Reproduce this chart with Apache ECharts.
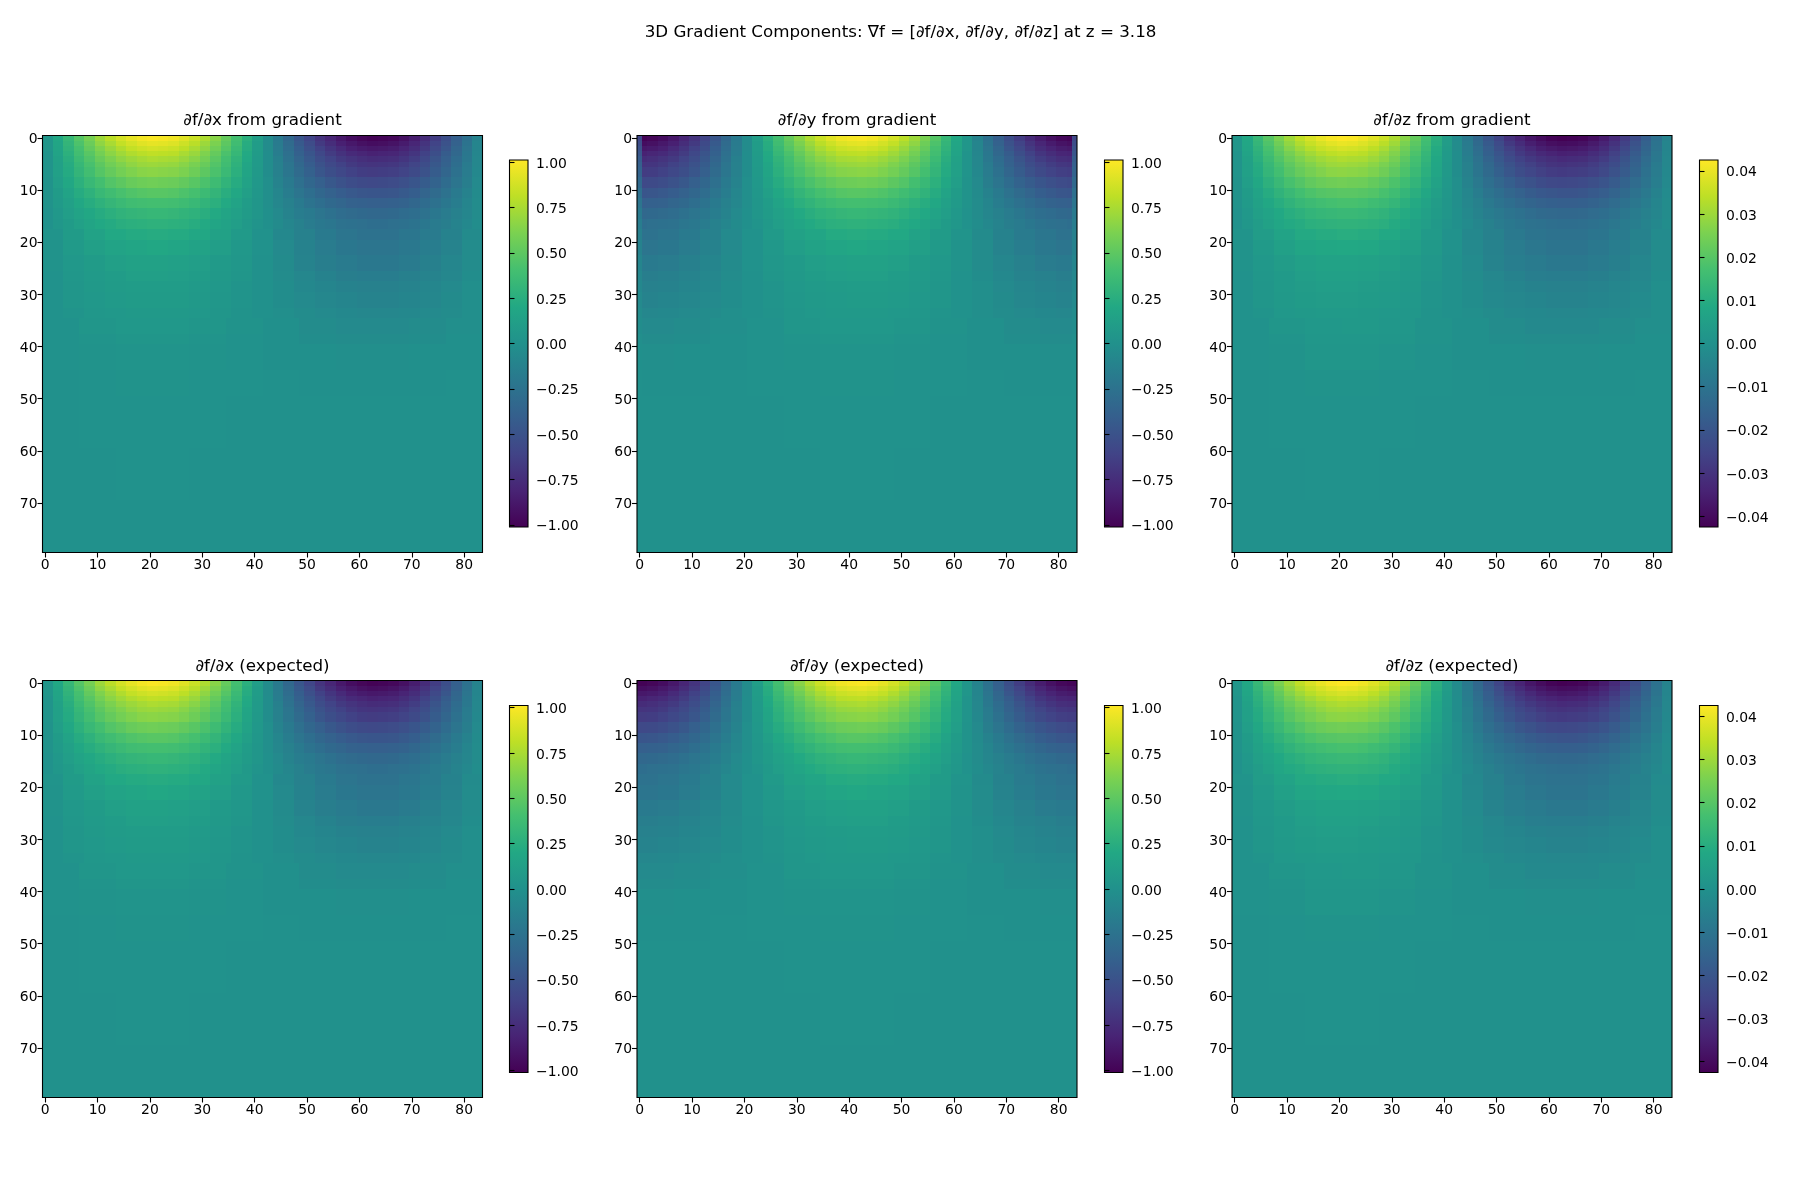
<!DOCTYPE html>
<html lang="en">
<head>
<meta charset="UTF-8">
<title>3D Gradient Components</title>
<style>
  html, body { margin: 0; background: #fff; }
  #chart { width: 1800px; height: 1200px; }
</style>
</head>
<body>
<div id="chart"></div>
<script src="https://cdn.jsdelivr.net/npm/echarts@6/dist/echarts.min.js"></script>
<script>
const suptitle = '3D Gradient Components: ∇f = [∂f/∂x, ∂f/∂y, ∂f/∂z] at z = 3.18';
const panelTitles = ['∂f/∂x from gradient', '∂f/∂y from gradient', '∂f/∂z from gradient',
                     '∂f/∂x (expected)', '∂f/∂y (expected)', '∂f/∂z (expected)'];
const unitTicks = [-1, -0.75, -0.5, -0.25, 0, 0.25, 0.5, 0.75, 1];
const dzTicks = [-0.04, -0.03, -0.02, -0.01, 0, 0.01, 0.02, 0.03, 0.04];
const unitLimit = 1.012;
const dzLimit = 0.0425;
const viridis = ['#440154', '#482475', '#414487', '#355f8d', '#2a788e', '#21918c', '#22a884', '#44bf70', '#7ad151', '#bddf26', '#fde725'];

// grid is 84 x 80 cells in blocks
// first row index of each block row; a row with n values splits the 84 columns in n equal blocks
const rowStarts = [0, 1, 2, 3, 4, 5, 6, 8, 10, 12, 14, 16, 18, 20, 23, 26, 28, 30, 33, 35, 38, 40, 45, 50, 60, 70];

// df/dx, hundredths
const dxRows = [
  [4,19,33,47,59,71,80,88,94,98,100,99,97,92,85,76,65,53,40,26,11,-4,-19,-33,-47,-59,-71,-80,-88,-94,-98,-100,-99,-97,-92,-85,-76,-65,-53,-40,-26,-11],
  [4,18,31,44,55,67,75,83,88,92,94,93,91,86,80,71,61,50,38,24,10,-4,-18,-31,-44,-55,-67,-75,-83,-88,-92,-94,-93,-91,-86,-80,-71,-61,-50,-38,-24,-10],
  [4,17,29,41,52,62,70,77,83,86,88,87,85,81,75,67,57,47,35,23,10,-4,-17,-29,-41,-52,-62,-70,-77,-83,-86,-88,-87,-85,-81,-75,-67,-57,-47,-35,-23,-10],
  [3,16,27,39,48,58,66,72,77,80,82,81,80,75,70,62,53,43,33,21,9,-3,-16,-27,-39,-48,-58,-66,-72,-77,-80,-82,-81,-80,-75,-70,-62,-53,-43,-33,-21,-9],
  [3,14,25,36,45,54,61,67,71,74,76,75,74,70,65,58,49,40,30,20,8,-3,-14,-25,-36,-45,-54,-61,-67,-71,-74,-76,-75,-74,-70,-65,-58,-49,-40,-30,-20,-8],
  [3,13,23,33,42,50,57,62,67,70,71,70,69,65,60,54,46,38,28,18,8,-3,-13,-23,-33,-42,-50,-57,-62,-67,-70,-71,-70,-69,-65,-60,-54,-46,-38,-28,-18,-8],
  [3,13,22,31,39,47,53,58,62,65,66,65,64,61,56,50,43,35,26,17,7,-3,-13,-22,-31,-39,-47,-53,-58,-62,-65,-66,-65,-64,-61,-56,-50,-43,-35,-26,-17,-7],
  [2,11,19,27,34,40,46,50,54,56,57,56,55,52,48,43,37,30,23,15,6,-2,-11,-19,-27,-34,-40,-46,-50,-54,-56,-57,-56,-55,-52,-48,-43,-37,-30,-23,-15,-6],
  [2,9,16,23,28,34,38,42,45,47,48,48,47,44,41,36,31,25,19,12,5,-2,-9,-16,-23,-28,-34,-38,-42,-45,-47,-48,-48,-47,-44,-41,-36,-31,-25,-19,-12,-5],
  [2,8,13,19,24,28,32,35,38,39,40,40,39,37,34,30,26,21,16,10,4,-2,-8,-13,-19,-24,-28,-32,-35,-38,-39,-40,-40,-39,-37,-34,-30,-26,-21,-16,-10,-4],
  [1,6,11,16,19,23,26,29,31,32,33,33,32,30,28,25,21,17,13,9,4,-1,-6,-11,-16,-19,-23,-26,-29,-31,-32,-33,-33,-32,-30,-28,-25,-21,-17,-13,-9,-4],
  [1,5,9,13,17,20,22,25,26,27,28,28,27,26,24,21,18,15,11,7,3,-1,-5,-9,-13,-17,-20,-22,-25,-26,-27,-28,-28,-27,-26,-24,-21,-18,-15,-11,-7,-3],
  [3,9,15,20,22,23,22,19,14,8,1,-7,-13,-19,-23,-25,-25,-22,-18,-12,-5],
  [2,8,12,16,18,19,18,15,11,6,1,-6,-12,-17,-21,-23,-23,-20,-16,-11,-4],
  [2,6,9,12,14,14,13,11,8,5,0,-5,-11,-15,-18,-20,-20,-18,-14,-9,-4],
  [1,5,8,10,12,12,11,10,7,4,0,-4,-8,-12,-15,-16,-16,-14,-11,-8,-3],
  [1,4,7,9,10,10,10,8,6,3,0,-3,-7,-10,-12,-13,-13,-11,-9,-6,-2],
  [1,4,6,8,9,9,9,7,5,3,0,-3,-6,-8,-10,-11,-11,-10,-8,-5,-2],
  [1,3,5,6,7,7,7,6,4,2,0,-2,-4,-6,-7,-8,-8,-7,-6,-4,-2],
  [1,4,6,6,4,2,-1,-4,-6,-6,-4,-2],
  [1,3,4,4,3,1,-1,-3,-4,-4,-3,-1],
  [1,2,3,3,2,1,-1,-1,-2,-2,-1,-1],
  [0,1,2,2,1,1,0,-1,-1,-1,-1,0],
  [0,1,1,1,1,0,0,0,0,0,0,0],
  [0,0,1,1,0,0,0,0,0,0,0,0],
  [0,0,0,0,0,0,0,0,0,0,0,0]
];

// df/dy, hundredths
const dyRows = [
  [-100,-98,-94,-88,-80,-71,-60,-47,-33,-19,-4,11,26,40,53,65,76,85,92,97,99,100,98,94,88,80,71,60,47,33,19,4,-11,-26,-40,-53,-65,-76,-85,-92,-97,-99],
  [-94,-92,-88,-83,-75,-67,-56,-44,-31,-18,-4,10,24,38,50,61,71,80,86,91,93,94,92,88,83,75,67,56,44,31,18,4,-10,-24,-38,-50,-61,-71,-80,-86,-91,-93],
  [-88,-86,-83,-77,-70,-62,-53,-41,-29,-17,-4,10,23,35,47,57,67,75,81,85,87,88,86,83,77,70,62,53,41,29,17,4,-10,-23,-35,-47,-57,-67,-75,-81,-85,-87],
  [-82,-80,-77,-72,-66,-58,-49,-39,-27,-16,-3,9,21,33,43,53,62,70,75,80,81,82,80,77,72,66,58,49,39,27,16,3,-9,-21,-33,-43,-53,-62,-70,-75,-80,-81],
  [-76,-74,-71,-67,-61,-54,-46,-36,-25,-14,-3,8,20,30,40,49,58,65,70,74,75,76,74,71,67,61,54,46,36,25,14,3,-8,-20,-30,-40,-49,-58,-65,-70,-74,-75],
  [-71,-70,-67,-62,-57,-50,-43,-33,-23,-13,-3,8,18,28,38,46,54,60,65,69,70,71,70,67,62,57,50,43,33,23,13,3,-8,-18,-28,-38,-46,-54,-60,-65,-69,-70],
  [-66,-65,-62,-58,-53,-47,-40,-31,-22,-13,-3,7,17,26,35,43,50,56,61,64,65,66,65,62,58,53,47,40,31,22,13,3,-7,-17,-26,-35,-43,-50,-56,-61,-64,-65],
  [-57,-56,-54,-50,-46,-40,-34,-27,-19,-11,-2,6,15,23,30,37,43,48,52,55,56,57,56,54,50,46,40,34,27,19,11,2,-6,-15,-23,-30,-37,-43,-48,-52,-55,-56],
  [-48,-47,-45,-42,-38,-34,-29,-23,-16,-9,-2,5,12,19,25,31,36,41,44,47,48,48,47,45,42,38,34,29,23,16,9,2,-5,-12,-19,-25,-31,-36,-41,-44,-47,-48],
  [-40,-39,-38,-35,-32,-28,-24,-19,-13,-8,-2,4,10,16,21,26,30,34,37,39,40,40,39,38,35,32,28,24,19,13,8,2,-4,-10,-16,-21,-26,-30,-34,-37,-39,-40],
  [-33,-32,-31,-29,-26,-23,-20,-16,-11,-6,-1,4,9,13,17,21,25,28,30,32,33,33,32,31,29,26,23,20,16,11,6,1,-4,-9,-13,-17,-21,-25,-28,-30,-32,-33],
  [-28,-27,-26,-25,-22,-20,-17,-13,-9,-5,-1,3,7,11,15,18,21,24,26,27,28,28,27,26,25,22,20,17,13,9,5,1,-3,-7,-11,-15,-18,-21,-24,-26,-27,-28],
  [-25,-23,-19,-13,-6,1,8,14,18,22,23,22,20,15,9,3,-5,-12,-18,-22,-25],
  [-23,-21,-17,-12,-6,1,6,11,15,18,19,18,16,12,8,2,-4,-11,-16,-20,-23],
  [-19,-17,-14,-10,-5,1,5,8,11,13,14,14,12,9,6,2,-4,-9,-13,-17,-19],
  [-15,-14,-11,-8,-4,0,4,7,10,11,12,12,10,8,5,1,-3,-7,-11,-13,-15],
  [-13,-12,-10,-7,-3,0,3,6,8,9,10,10,9,7,4,1,-2,-6,-9,-11,-13],
  [-11,-10,-8,-6,-3,0,3,5,7,8,9,9,8,6,4,1,-2,-5,-8,-10,-11],
  [-8,-7,-6,-4,-2,0,2,4,6,7,7,7,6,5,3,1,-2,-4,-6,-7,-8],
  [-6,-4,-2,1,4,6,6,4,2,-1,-4,-6],
  [-4,-3,-1,1,3,4,4,3,1,-1,-3,-4],
  [-2,-1,-1,1,2,3,3,2,1,-1,-1,-2],
  [-1,-1,0,1,1,2,2,1,1,0,-1,-1],
  [0,0,0,0,1,1,1,1,0,0,0,0],
  [0,0,0,0,0,1,1,0,0,0,0,0],
  [0,0,0,0,0,0,0,0,0,0,0,0]
];

// the from-gradient df/dy has lighter first and last columns, one value per block row
const dyEdgeColumn = [-58,-54,-50,-47,-43,-40,-37,-32,-27,-23,-19,-16,-14,-12,-10,-8,-7,-6,-4,-3,-2,-1,0,0,0,0];

// df/dz, hundredths of dzLimit (position on its colour scale)
const dzRows = [
  [4,19,33,47,60,71,81,88,94,98,100,99,96,91,84,75,64,52,39,25,10,-5,-19,-33,-47,-59,-71,-80,-88,-94,-98,-100,-99,-97,-92,-85,-76,-65,-53,-40,-26,-11],
  [4,18,31,44,56,67,76,83,88,92,94,93,90,86,79,71,60,49,37,24,10,-4,-18,-31,-44,-55,-67,-75,-83,-88,-92,-94,-93,-91,-86,-80,-71,-61,-50,-38,-24,-10],
  [4,17,29,41,52,63,71,78,83,86,88,87,85,80,74,66,56,46,35,22,9,-4,-17,-29,-41,-52,-62,-70,-77,-83,-86,-88,-87,-85,-81,-75,-67,-57,-47,-35,-23,-10],
  [3,16,27,39,49,58,66,72,77,80,82,81,79,75,69,62,53,43,32,21,8,-3,-16,-27,-39,-48,-58,-66,-72,-77,-80,-82,-81,-80,-75,-70,-62,-53,-43,-33,-21,-9],
  [3,14,25,36,45,54,61,67,71,74,76,75,74,70,65,58,49,40,30,19,8,-3,-14,-25,-36,-45,-54,-61,-67,-71,-74,-76,-75,-74,-70,-65,-58,-49,-40,-30,-20,-8],
  [3,13,23,33,42,50,57,62,67,70,71,70,69,65,60,54,46,38,28,18,7,-3,-13,-23,-33,-42,-50,-57,-62,-67,-70,-71,-70,-69,-65,-60,-54,-46,-38,-28,-18,-8],
  [3,13,22,31,39,47,53,58,62,65,66,65,64,61,56,50,43,35,26,17,7,-3,-13,-22,-31,-39,-47,-53,-58,-62,-65,-66,-65,-64,-61,-56,-50,-43,-35,-26,-17,-7],
  [2,11,19,27,34,41,46,51,54,56,57,56,55,52,48,43,37,30,23,15,6,-2,-11,-19,-27,-34,-40,-46,-50,-54,-56,-57,-56,-55,-52,-48,-43,-37,-30,-23,-15,-6],
  [2,9,16,23,29,34,39,43,46,47,48,48,47,45,41,37,31,25,19,12,5,-2,-9,-16,-23,-28,-34,-38,-42,-45,-47,-48,-48,-47,-44,-41,-36,-31,-25,-19,-12,-5],
  [2,8,14,19,24,29,33,36,38,40,41,41,40,37,35,31,26,21,16,10,4,-2,-8,-13,-19,-24,-28,-32,-35,-38,-39,-40,-40,-39,-37,-34,-30,-26,-21,-16,-10,-4],
  [1,6,12,16,20,24,27,30,32,33,34,34,33,31,29,25,22,18,13,9,4,-1,-6,-11,-16,-19,-23,-26,-29,-31,-32,-33,-33,-32,-30,-28,-25,-21,-17,-13,-9,-4],
  [1,5,10,14,18,21,23,26,27,28,29,29,28,27,25,22,19,15,11,7,3,-1,-5,-9,-13,-17,-20,-22,-25,-26,-27,-28,-28,-27,-26,-24,-21,-18,-15,-11,-7,-3],
  [3,10,16,21,23,24,23,20,15,8,1,-7,-13,-19,-23,-25,-25,-22,-18,-12,-5],
  [2,8,13,17,19,20,19,16,12,7,1,-6,-12,-17,-21,-23,-23,-20,-16,-11,-4],
  [2,6,10,13,15,15,14,12,9,5,0,-5,-11,-15,-18,-20,-20,-18,-14,-9,-4],
  [1,5,8,11,13,13,12,10,8,4,0,-4,-8,-12,-15,-16,-16,-14,-11,-8,-3],
  [1,4,8,10,11,11,10,9,7,3,0,-3,-7,-10,-12,-13,-13,-11,-9,-6,-2],
  [1,4,7,9,10,10,9,8,6,3,0,-3,-6,-8,-10,-11,-11,-10,-8,-5,-2],
  [1,3,6,7,8,8,7,6,5,2,0,-2,-4,-6,-7,-8,-8,-7,-6,-4,-2],
  [1,4,6,7,5,2,-1,-4,-6,-6,-4,-2],
  [1,3,5,5,4,2,-1,-3,-4,-4,-3,-1],
  [1,2,4,4,3,1,-1,-1,-2,-2,-1,-1],
  [0,1,2,2,1,1,0,-1,-1,-1,-1,0],
  [0,1,1,1,1,0,0,0,0,0,0,0],
  [0,0,1,1,0,0,0,0,0,0,0,0],
  [0,0,0,0,0,0,0,0,0,0,0,0]
];

const colCount = 84;
const rowCount = 80;
const xCats = Array.from({ length: colCount }, (_, i) => String(i));
const yCats = Array.from({ length: rowCount }, (_, i) => String(i));

function fmtTick(v) {
  return '{a|' + v.toFixed(2).replace('-', '\u2212') + '}';
}

// expand the block rows onto the 84 x 80 cells
function buildCells(rows, unit, edge) {
  const cells = [];
  for (let y = 0; y < rowCount; y++) {
    let b = rowStarts.length - 1;
    while (rowStarts[b] > y) b--;
    const row = rows[b];
    for (let x = 0; x < colCount; x++) {
      let v = row[Math.floor(x * row.length / colCount)];
      if (edge && (x === 0 || x === colCount - 1)) v = edge[b];
      cells.push([x, y, v * unit]);
    }
  }
  return cells;
}

// toFixed first: neighbours must round a shared edge the same way
function snap(v) {
  return Math.round(+v.toFixed(3));
}

// cell edges snapped to whole pixels, so neighbours share an edge and no seams show
function renderCell(params, api) {
  const p = api.coord([api.value(0), api.value(1)]);
  const s = api.size([1, 1]);
  const x0 = snap(p[0] - s[0] / 2), x1 = snap(p[0] + s[0] / 2);
  const y0 = snap(p[1] - s[1] / 2), y1 = snap(p[1] + s[1] / 2);
  return {
    type: 'rect',
    shape: { x: x0, y: y0, width: x1 - x0, height: y1 - y0 },
    style: { fill: api.visual('color') }
  };
}

const panels = [
  { rows: dxRows, unit: 0.01, limit: unitLimit, ticks: unitTicks, edge: null },
  { rows: dyRows, unit: 0.01, limit: unitLimit, ticks: unitTicks, edge: dyEdgeColumn },
  { rows: dzRows, unit: dzLimit / 100, limit: dzLimit, ticks: dzTicks, edge: null },
  { rows: dxRows, unit: 0.01, limit: unitLimit, ticks: unitTicks, edge: null },
  { rows: dyRows, unit: 0.01, limit: unitLimit, ticks: unitTicks, edge: null },
  { rows: dzRows, unit: dzLimit / 100, limit: dzLimit, ticks: dzTicks, edge: null }
];

const plotLefts = [42.5, 637, 1232];
const barLefts = [509.5, 1104.5, 1699.5];
const plotTops = [135.5, 680.5];
const barTops = [160, 705.5];
const titleTops = [107, 653];

const textColor = '#000';
const fontFamily = '"DejaVu Sans", sans-serif';
const grids = [], xAxes = [], yAxes = [], series = [], visualMaps = [];
const titles = [{
  text: suptitle, left: 895.5, top: 19.5, textAlign: 'center',
  textStyle: { color: textColor, fontFamily, fontSize: 16.7, fontWeight: 'normal' }
}];

panels.forEach((p, i) => {
  const col = i % 3, rowIdx = i < 3 ? 0 : 1;
  const left = plotLefts[col];

  // title boxes carry 5px of padding
  titles.push({
    text: panelTitles[i], left: left + 215, top: titleTops[rowIdx], textAlign: 'center',
    textStyle: { color: textColor, fontFamily, fontSize: 16.7, fontWeight: 'normal' }
  });

  // image panel
  const g = grids.length;
  grids.push({ show: true, left, top: plotTops[rowIdx], width: 440, height: 417,
    borderColor: '#000', borderWidth: 1.1, backgroundColor: 'transparent', containLabel: false });
  const tenth = idx => idx % 10 === 0;
  const tickStyle = { show: true, alignWithLabel: true, interval: tenth, length: 5, lineStyle: { color: '#000', width: 1.1 } };
  const labelBase = { show: true, interval: tenth, color: textColor, fontFamily, fontSize: 13.9 };
  xAxes.push({
    type: 'category', gridIndex: g, data: xCats, position: 'bottom',
    axisLine: { show: false }, axisTick: tickStyle, splitLine: { show: false }, splitArea: { show: false },
    axisLabel: Object.assign({ margin: 6 }, labelBase)
  });
  yAxes.push({
    type: 'category', gridIndex: g, data: yCats, inverse: true, position: 'left',
    axisLine: { show: false }, axisTick: tickStyle, splitLine: { show: false }, splitArea: { show: false },
    axisLabel: Object.assign({
      margin: 5,
      formatter: v => '{a|' + v + '}',
      rich: { a: { color: textColor, fontFamily, fontSize: 13.9, padding: [3, 0, 0, 0] } }
    }, labelBase)
  });
  visualMaps.push({
    show: false, type: 'continuous', seriesIndex: series.length, dimension: 2,
    min: -p.limit, max: p.limit, inRange: { color: viridis }
  });
  series.push({
    type: 'custom', xAxisIndex: g, yAxisIndex: g, z: -1,
    data: buildCells(p.rows, p.unit, p.edge),
    encode: { x: 0, y: 1 }, renderItem: renderCell,
    progressive: 0, animation: false, silent: true
  });

  // colour bar
  const c = grids.length;
  grids.push({ show: true, left: barLefts[col], top: barTops[rowIdx], width: 18.5, height: 367,
    borderColor: '#000', borderWidth: 1.1, backgroundColor: 'transparent', containLabel: false });
  xAxes.push({ type: 'value', gridIndex: c, min: 0, max: 1, show: false });
  yAxes.push({
    type: 'value', gridIndex: c, position: 'right', min: -p.limit, max: p.limit,
    axisLine: { show: false }, splitLine: { show: false },
    axisTick: { show: true, length: 5, customValues: p.ticks, lineStyle: { color: '#000', width: 1.1 } },
    axisLabel: { show: true, customValues: p.ticks, color: textColor, fontFamily, fontSize: 13.9, margin: 8,
      formatter: fmtTick,
      rich: { a: { color: textColor, fontFamily, fontSize: 13.9, padding: [4, 0, 0, 0] } } }
  });
  series.push({
    type: 'custom', xAxisIndex: c, yAxisIndex: c, z: -1, silent: true, animation: false,
    data: [[0, -p.limit, 1, p.limit]],
    renderItem: (params, api) => {
      const a = api.coord([api.value(0), api.value(3)]);
      const b = api.coord([api.value(2), api.value(1)]);
      return {
        type: 'rect',
        shape: { x: a[0], y: a[1], width: b[0] - a[0], height: b[1] - a[1] },
        style: {
          fill: new echarts.graphic.LinearGradient(0, 1, 0, 0,
            viridis.map((color, k) => ({ offset: k / (viridis.length - 1), color })))
        }
      };
    }
  });
});

const myChart = echarts.init(document.getElementById('chart'), null, { renderer: 'canvas' });
myChart.setOption({
  backgroundColor: '#fff',
  animation: false,
  title: titles,
  grid: grids,
  xAxis: xAxes,
  yAxis: yAxes,
  visualMap: visualMaps,
  series
});
</script>
</body>
</html>
